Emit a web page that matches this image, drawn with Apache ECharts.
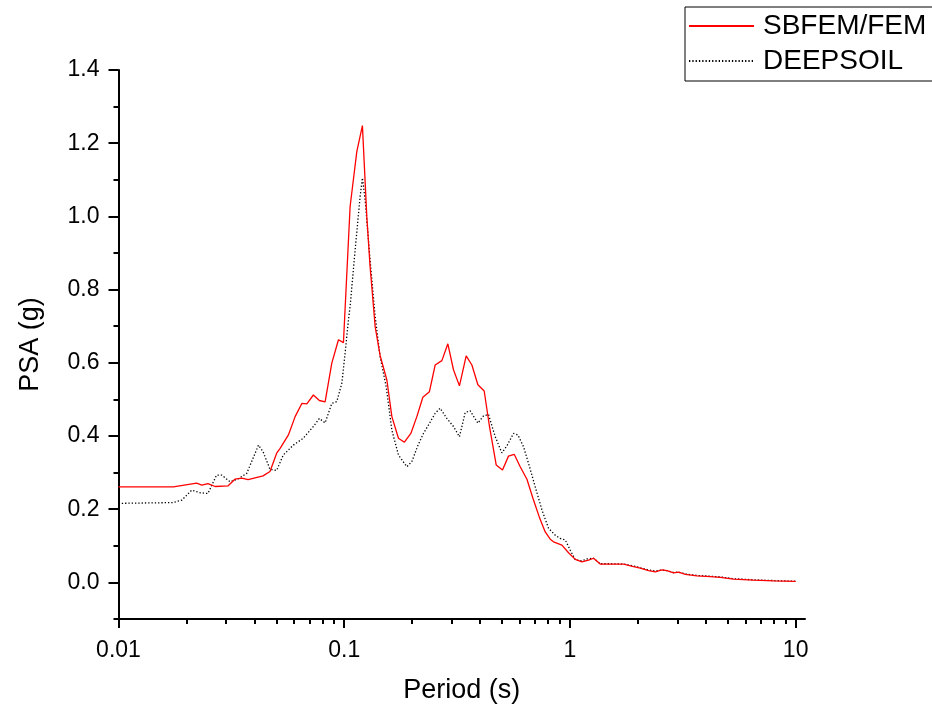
<!DOCTYPE html>
<html>
<head>
<meta charset="utf-8">
<script src="https://cdn.jsdelivr.net/npm/echarts@6/dist/echarts.min.js"></script>
<style>
html,body{margin:0;padding:0;background:#fff;}
#chart{width:932px;height:706px;}
</style>
</head>
<body>
<div id="chart"></div>
<script>
// ---- Data ----
const sbfemPeriod = [0.01,0.0175,0.0222,0.0234,0.0249,0.0268,0.0306,0.0328,0.0352,0.0375,0.0437,0.0469,0.0502,0.0520,0.0566,0.0606,0.0649,0.0683,0.0730,0.0776,0.0823,0.0881,0.0943,0.0992,0.1062,0.1137,0.1204,0.1259,0.1302,0.1371,0.1442,0.1545,0.1626,0.1739,0.1848,0.1973,0.2098,0.2230,0.2385,0.2529,0.2708,0.2878,0.3048,0.3240,0.3470,0.3678,0.3910,0.4170,0.4401,0.4713,0.5026,0.5343,0.5663,0.6021,0.6449,0.6855,0.7312,0.7772,0.8178,0.8458,0.9215,0.9858,1.056,1.130,1.209,1.272,1.362,1.509,1.728,1.914,2.049,2.231,2.388,2.558,2.692,2.879,3.03,3.244,3.655,4.186,4.637,5.311,6.513,7.99,10];
const sbfemPSA = [0.261,0.261,0.271,0.266,0.270,0.262,0.264,0.282,0.285,0.281,0.291,0.303,0.353,0.366,0.403,0.453,0.489,0.488,0.512,0.497,0.493,0.599,0.663,0.655,1.027,1.177,1.248,1.000,0.863,0.699,0.620,0.553,0.453,0.394,0.383,0.407,0.453,0.506,0.521,0.594,0.606,0.652,0.581,0.537,0.619,0.594,0.540,0.523,0.426,0.321,0.307,0.345,0.350,0.316,0.282,0.230,0.179,0.138,0.118,0.111,0.102,0.081,0.063,0.056,0.061,0.066,0.050,0.050,0.050,0.043,0.039,0.032,0.029,0.034,0.032,0.026,0.028,0.022,0.018,0.016,0.014,0.009,0.006,0.004,0.003];

const deepPeriod = [0.01,0.0174,0.0191,0.0211,0.0230,0.0249,0.0272,0.0287,0.0312,0.0339,0.0370,0.0417,0.0437,0.0469,0.0502,0.0537,0.0595,0.0659,0.0730,0.0776,0.0823,0.0881,0.0927,0.0976,0.1009,0.1044,0.1062,0.1118,0.1176,0.1204,0.1238,0.1302,0.1371,0.1442,0.1534,0.1626,0.1739,0.1894,0.1993,0.2111,0.2244,0.2388,0.2529,0.2661,0.2849,0.3048,0.3240,0.3435,0.3615,0.3910,0.4140,0.4356,0.4666,0.4995,0.5256,0.5623,0.5881,0.6226,0.6622,0.7018,0.7515,0.8036,0.8605,0.9058,0.9533,1.003,1.058,1.130,1.190,1.272,1.362,1.509,1.728,1.914,2.049,2.231,2.388,2.558,2.692,2.879,3.03,3.244,3.655,4.186,4.637,5.311,6.513,7.99,10];
const deepPSA = [0.216,0.218,0.225,0.252,0.245,0.243,0.293,0.293,0.275,0.283,0.298,0.375,0.357,0.309,0.306,0.348,0.375,0.394,0.426,0.448,0.436,0.489,0.494,0.544,0.626,0.717,0.754,0.909,1.054,1.105,1.045,0.881,0.726,0.617,0.535,0.416,0.348,0.316,0.330,0.371,0.407,0.435,0.462,0.476,0.448,0.426,0.398,0.464,0.469,0.435,0.455,0.459,0.398,0.354,0.373,0.407,0.403,0.371,0.316,0.261,0.198,0.148,0.129,0.120,0.116,0.088,0.061,0.059,0.064,0.066,0.051,0.051,0.050,0.045,0.040,0.034,0.031,0.034,0.032,0.027,0.028,0.023,0.019,0.017,0.015,0.010,0.007,0.005,0.003];

const xMajorTicks = [0.01, 0.1, 1, 10];
const xTickLabels = ['0.01', '0.1', '1', '10'];
const xMinorTicks = [0.02,0.03,0.04,0.05,0.06,0.07,0.08,0.09,0.2,0.3,0.4,0.5,0.6,0.7,0.8,0.9,2,3,4,5,6,7,8,9];
const yMajorTicks = [0, 0.2, 0.4, 0.6, 0.8, 1.0, 1.2, 1.4];
const seriesNames = ['SBFEM/FEM', 'DEEPSOIL'];

const FONT = '"Liberation Sans", Arial, sans-serif';
const zip = (a, b) => a.map((v, i) => [v, b[i]]);
const hiddenLine = {show: true, onZero: false, lineStyle: {color: 'rgba(0,0,0,0)', width: 0}};

const chart = echarts.init(document.getElementById('chart'), null, {renderer: 'canvas'});

chart.setOption({
  animation: false,
  backgroundColor: '#fff',
  grid: {left: 118.5, right: 127, top: 70, bottom: 87, containLabel: false, outerBoundsMode: 'none'},
  legend: {
    orient: 'vertical', left: 685, top: 7,
    padding: [5, 30, 6, 3],
    itemWidth: 65, itemHeight: 14, itemGap: 7,
    borderColor: '#000', borderWidth: 1, backgroundColor: '#fff',
    itemStyle: {opacity: 0},
    textStyle: {fontFamily: FONT, fontSize: 28, color: '#000', lineHeight: 28, padding: [0, 0, 0, 4]},
    data: seriesNames
  },
  xAxis: [{
    type: 'log', logBase: 10, min: 0.01, max: 11, position: 'bottom',
    name: 'Period (s)', nameLocation: 'middle', nameGap: 58,
    nameTextStyle: {fontFamily: FONT, fontSize: 27, color: '#000'},
    axisLine: {show: true, onZero: false, lineStyle: {color: '#000', width: 2}},
    axisTick: {show: true, inside: false, length: 9, customValues: xMajorTicks, lineStyle: {color: '#000', width: 2}},
    axisLabel: {show: true, customValues: xMajorTicks, margin: 20, fontFamily: FONT, fontSize: 23, color: '#000',
      formatter: v => { const i = xMajorTicks.findIndex(t => Math.abs(Math.log10(t) - Math.log10(v)) < 1e-6); return i >= 0 ? xTickLabels[i] : ''; }},
    splitLine: {show: false}
  }, {
    type: 'log', logBase: 10, min: 0.01, max: 11, position: 'bottom',
    axisLine: hiddenLine,
    axisTick: {show: true, inside: false, length: 5, customValues: xMinorTicks, lineStyle: {color: '#000', width: 2}},
    axisLabel: {show: false}, splitLine: {show: false}
  }],
  yAxis: [{
    type: 'value', min: -0.1, max: 1.4, position: 'left',
    name: 'PSA (g)', nameLocation: 'middle', nameGap: 74,
    nameTextStyle: {fontFamily: FONT, fontSize: 27, color: '#000'},
    axisLine: {show: true, onZero: false, lineStyle: {color: '#000', width: 2}},
    axisTick: {show: true, inside: false, length: 10, customValues: yMajorTicks, lineStyle: {color: '#000', width: 2}},
    axisLabel: {show: true, customValues: yMajorTicks, margin: 19, fontFamily: FONT, fontSize: 23, color: '#000',
      formatter: v => v.toFixed(1)},
    splitLine: {show: false}
  }, {
    type: 'value', min: -0.1, max: 1.4, interval: 0.1, position: 'left',
    axisLine: hiddenLine,
    axisTick: {show: true, inside: false, length: 5, lineStyle: {color: '#000', width: 2}},
    axisLabel: {show: false}, splitLine: {show: false}
  }],
  series: [{
    name: seriesNames[0], type: 'line', xAxisIndex: 0, yAxisIndex: 0,
    data: zip(sbfemPeriod, sbfemPSA), showSymbol: false, symbol: 'none',
    lineStyle: {color: '#ff0000', width: 1.3}, itemStyle: {color: '#ff0000'}, z: 3
  }, {
    name: seriesNames[1], type: 'line', xAxisIndex: 0, yAxisIndex: 0,
    data: zip(deepPeriod, deepPSA), showSymbol: false, symbol: 'none',
    lineStyle: {color: '#000', width: 1.3, type: [1.3, 2]}, itemStyle: {color: '#000'}, z: 2
  }]
});
</script>
</body>
</html>
